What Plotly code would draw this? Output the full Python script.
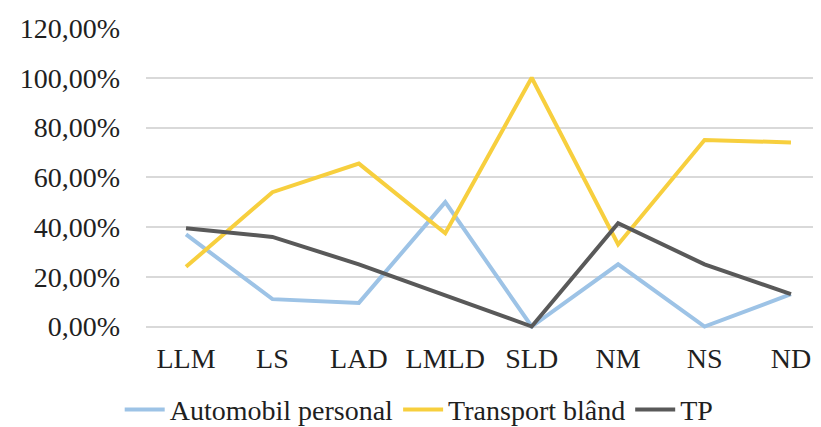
"""Line chart: modal share per zone (Automobil personal / Transport blând / TP)."""

import plotly.graph_objects as go

# ── Data ─────────────────────────────────────────────────────────────────────
zones = ["LLM", "LS", "LAD", "LMLD", "SLD", "NM", "NS", "ND"]

automobil_personal = [0.37, 0.11, 0.095, 0.50, 0.0, 0.25, 0.0, 0.13]
transport_bland = [0.24, 0.54, 0.655, 0.375, 1.00, 0.33, 0.75, 0.74]
tp = [0.395, 0.36, 0.25, 0.125, 0.0, 0.415, 0.25, 0.13]

y_ticks = [0.0, 0.2, 0.4, 0.6, 0.8, 1.0, 1.2]
y_tick_labels = ["0,00%", "20,00%", "40,00%", "60,00%", "80,00%", "100,00%", "120,00%"]

FONT = "Liberation Serif, Times New Roman, serif"
TEXT = "#1f1f1f"

series = [
    ("Automobil personal", automobil_personal, "#9dc3e6"),
    ("Transport blând", transport_bland, "#f7cf3e"),
    ("TP", tp, "#595959"),
]

fig = go.Figure()
for name, values, color in series:
    fig.add_trace(
        go.Scatter(
            x=zones, y=values,
            mode="lines",
            name=name,
            line=dict(color=color, width=4),
        )
    )

fig.update_layout(
    width=821,
    height=427,
    margin=dict(l=138, r=0, t=20, b=101),
    paper_bgcolor="white",
    plot_bgcolor="white",
    font=dict(family=FONT, size=28, color=TEXT),
    xaxis=dict(
        type="category",
        range=[-0.463, 7.44],
        showgrid=False,
        showline=False,
        zeroline=False,
        ticks="",
        ticklabelstandoff=10,
        tickfont=dict(family=FONT, size=28, color=TEXT),
    ),
    yaxis=dict(
        range=[-0.01, 1.2],
        tickvals=y_ticks,
        ticktext=y_tick_labels,
        showgrid=True,
        gridcolor="#d9d9d9",
        gridwidth=1.5,
        zeroline=False,
        showline=False,
        ticks="",
        ticklabelstandoff=25,
        tickfont=dict(family=FONT, size=28, color=TEXT),
    ),
    legend=dict(
        orientation="h",
        x=0.40,
        xanchor="center",
        y=-0.185,
        yanchor="top",
        font=dict(family=FONT, size=28, color=TEXT),
        itemwidth=40,
        tracegroupgap=0,
    ),
)

fig.write_html("out.html")
